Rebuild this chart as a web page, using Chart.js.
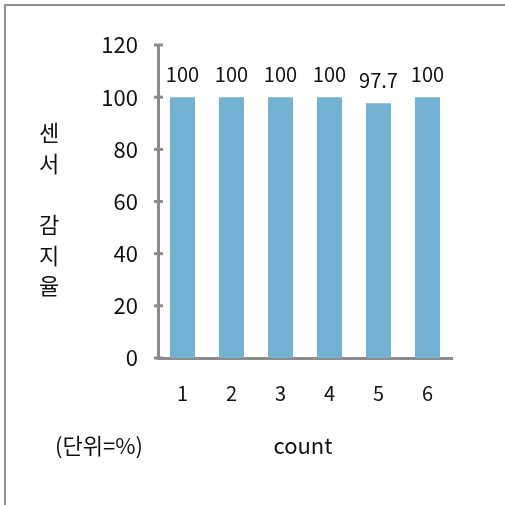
<!DOCTYPE html>
<html>
<head>
<meta charset="utf-8">
<script src="https://cdn.jsdelivr.net/npm/chart.js@4"></script>
<style>
  html, body { margin: 0; padding: 0; background: #fff; }
  #wrap { width: 505px; height: 505px; }
</style>
</head>
<body>
<div id="wrap"><canvas id="mycanvas" width="505" height="505"></canvas></div>
<script>
var counts = ['1', '2', '3', '4', '5', '6'];
var rates = [100, 100, 100, 100, 97.7, 100];
var yTitle = ['센', '서', '', '감', '지', '율'];
var unitNote = '(단위=%)';
var xTitle = 'count';

var font = "'Noto Sans CJK KR', 'Noto Sans', sans-serif";
var axisGray = '#8c8c8c';

// frame, axis cross-ticks, value labels and titles
var extras = {
  id: 'extras',
  beforeDraw: function(chart){
    var ctx = chart.ctx;
    ctx.save();
    ctx.strokeStyle = '#8f8f8f';
    ctx.lineWidth = 2;
    ctx.beginPath();
    ctx.moveTo(5, 505);
    ctx.lineTo(5, 5);
    ctx.lineTo(505, 5);
    ctx.stroke();
    ctx.restore();
  },
  afterDraw: function(chart){
    var ctx = chart.ctx;
    var y = chart.scales.y;
    var area = chart.chartArea;
    ctx.save();

    // tick marks crossing the y axis
    ctx.strokeStyle = axisGray;
    ctx.lineWidth = 3;
    y.ticks.forEach(function(t){
      var py = y.getPixelForValue(t.value);
      ctx.beginPath();
      ctx.moveTo(area.left - 4, py);
      ctx.lineTo(area.left + 5, py);
      ctx.stroke();
    });

    // values above bars
    ctx.fillStyle = '#111';
    ctx.font = '20px ' + font;
    ctx.textAlign = 'center';
    ctx.textBaseline = 'alphabetic';
    chart.getDatasetMeta(0).data.forEach(function(bar, i){
      ctx.fillText(String(rates[i]), bar.x, bar.y - 15);
    });

    // stacked y title
    ctx.font = '22px ' + font;
    ctx.textBaseline = 'middle';
    yTitle.forEach(function(ch, i){
      if (ch) ctx.fillText(ch, 49, 133 + i * 30.6);
    });

    // footer texts
    ctx.fillText(unitNote, 99, 446);
    ctx.fillText(xTitle, (area.left + area.right) / 2 - 2, 446);
    ctx.restore();
  }
};

var chartdata = {
  labels: counts,
  datasets: [{
    label: 'rate',
    backgroundColor: '#72b1d1',
    borderWidth: 0,
    data: rates,
    categoryPercentage: 1,
    barPercentage: 0.51
  }]
};

var ctx = document.getElementById('mycanvas');
var barGraph = new Chart(ctx, {
  type: 'bar',
  data: chartdata,
  plugins: [extras],
  options: {
    responsive: false,
    animation: false,
    events: [],
    layout: { padding: { top: 45, right: 53, left: 0, bottom: 0 } },
    plugins: { legend: { display: false }, tooltip: { enabled: false } },
    scales: {
      x: {
        afterFit: function(s){ s.height = 147; },
        grid: { display: false },
        border: { color: axisGray, width: 3 },
        ticks: { color: '#111', font: { family: font, size: 20 }, padding: 15 }
      },
      y: {
        min: 0,
        max: 120,
        afterFit: function(s){ s.width = 158; },
        grid: { display: false, drawTicks: false },
        border: { color: axisGray, width: 3 },
        ticks: { stepSize: 20, color: '#111', font: { family: font, size: 22 }, padding: 20 }
      }
    }
  }
});
</script>
</body>
</html>
